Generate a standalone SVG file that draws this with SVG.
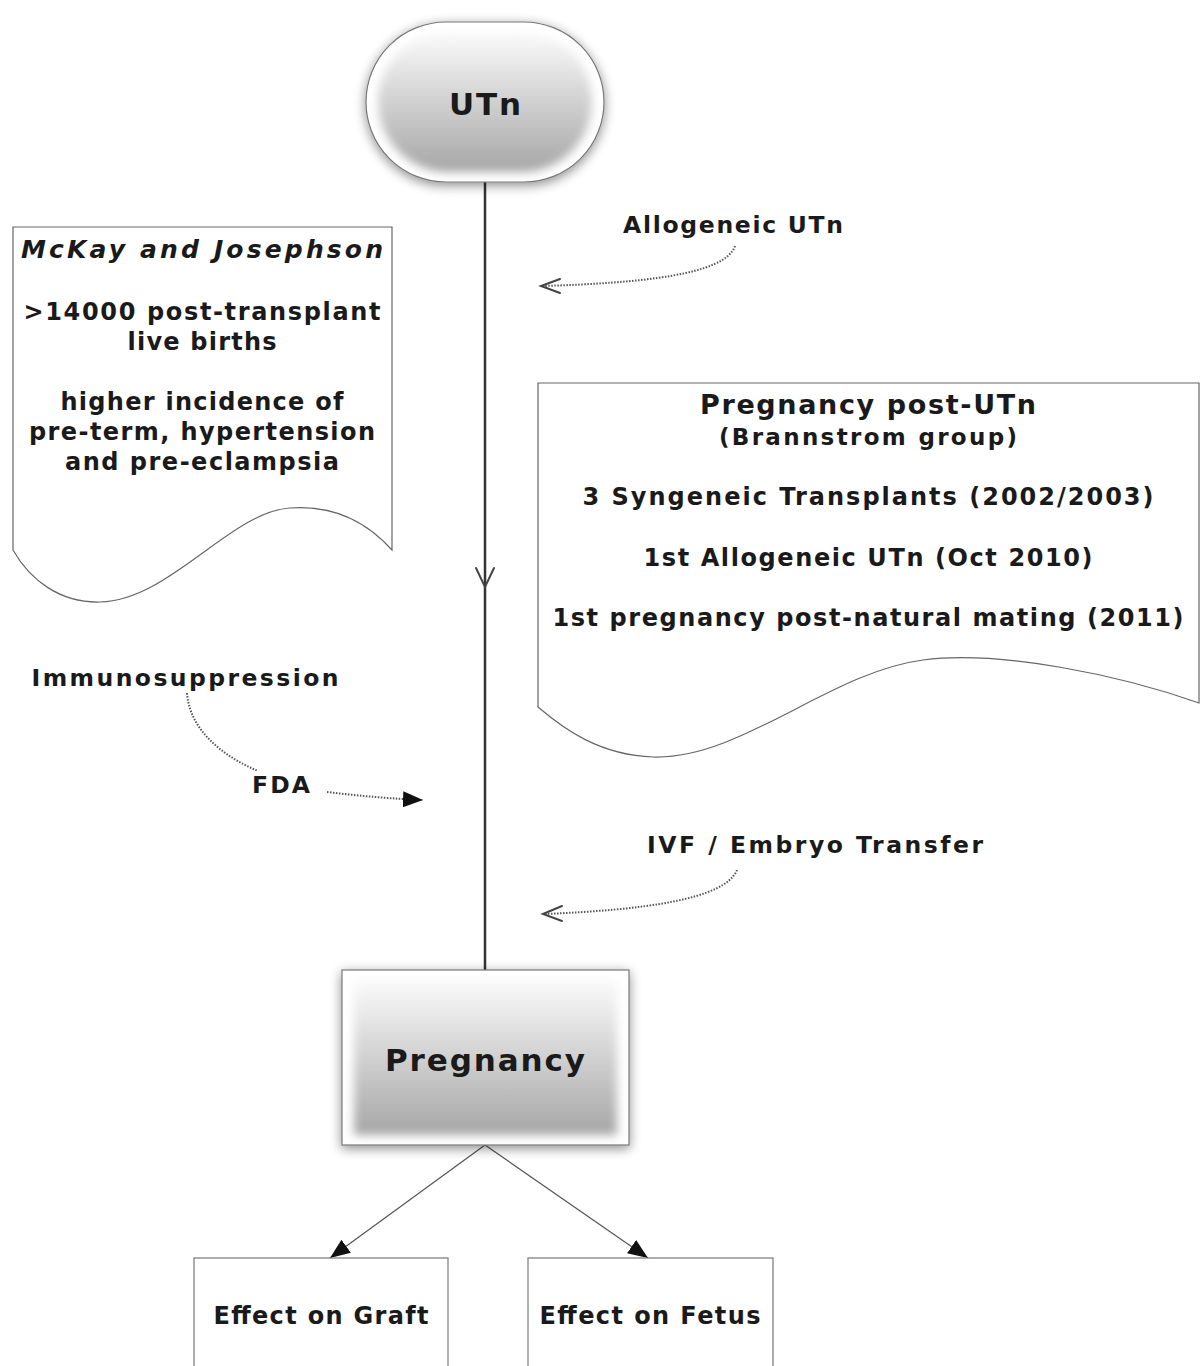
<svg xmlns="http://www.w3.org/2000/svg" width="1200" height="1366" viewBox="0 0 1200 1366">
<style>
text{font-family:"DejaVu Sans","Verdana",sans-serif;font-weight:bold;fill:#1a1a1a;text-anchor:middle}
.doc{fill:#fff;stroke:#666;stroke-width:1.2}
.box{fill:#fff;stroke:#777;stroke-width:1.2}
.dot{fill:none;stroke:#555;stroke-width:2;stroke-dasharray:1.5,1.5}
.open{fill:none;stroke:#444;stroke-width:2;stroke-linecap:round}
.thin{fill:none;stroke:#555;stroke-width:1.2}
</style>
<defs>
<linearGradient id="g" x1="0" y1="0" x2="0" y2="1">
<stop offset="0" stop-color="#fbfbfb"/>
<stop offset="1" stop-color="#a6a6a6"/>
</linearGradient>
<filter id="sh" x="-20%" y="-20%" width="140%" height="140%">
<feGaussianBlur in="SourceAlpha" stdDeviation="6"/>
<feOffset dx="0" dy="3"/>
<feComponentTransfer><feFuncA type="linear" slope="0.45"/></feComponentTransfer>
<feMerge><feMergeNode/><feMergeNode in="SourceGraphic"/></feMerge>
</filter>
<filter id="bl" x="-10%" y="-10%" width="120%" height="120%">
<feGaussianBlur stdDeviation="5"/>
</filter>
<marker id="fb" viewBox="0 0 20 16" refX="20" refY="8" markerWidth="20" markerHeight="16" markerUnits="userSpaceOnUse" orient="auto">
<path d="M0,0 L20,8 L0,16 Z" fill="#111"/>
</marker>
</defs>

<g id="connectors">
<line x1="485" y1="182" x2="485" y2="970" stroke="#333" stroke-width="2.5"/>
<path class="open" d="M476,568 L485,587 L494,568"/>
<path class="dot" d="M735,246 C725,275 640,283 543,286"/>
<path class="open" d="M560,279 L541,286 L560,293"/>
<path class="dot" d="M737,870 C725,900 640,910 545,914"/>
<path class="open" d="M562,906 L543,914 L562,921"/>
<path class="dot" d="M187,693 C190,732 225,757 258,771"/>
<path class="dot" d="M327,792 C360,796 395,799 423,800" marker-end="url(#fb)"/>
<line class="thin" x1="485" y1="1145" x2="330" y2="1258" marker-end="url(#fb)"/>
<line class="thin" x1="485" y1="1145" x2="648" y2="1258" marker-end="url(#fb)"/>
</g>

<g id="node-utn">
<rect x="366" y="22" width="238" height="160" rx="80" ry="80" fill="#fff" stroke="#777" stroke-width="1.2" filter="url(#sh)"/>
<rect x="378" y="32" width="214" height="140" rx="70" ry="70" fill="url(#g)" filter="url(#bl)"/>
<text x="485" y="115" font-size="31" textLength="72" lengthAdjust="spacing">UTn</text>
</g>

<g id="node-pregnancy">
<rect x="342" y="970" width="287" height="175" fill="#fff" stroke="#777" stroke-width="1.2" filter="url(#sh)"/>
<rect x="354" y="980" width="263" height="155" fill="url(#g)" filter="url(#bl)"/>
<text x="485" y="1071" font-size="31" textLength="200" lengthAdjust="spacing">Pregnancy</text>
</g>

<g id="node-graft">
<rect class="box" x="194" y="1258" width="254" height="130"/>
<text x="321" y="1324" font-size="24" textLength="215" lengthAdjust="spacing">Effect on Graft</text>
</g>

<g id="node-fetus">
<rect class="box" x="528" y="1258" width="245" height="130"/>
<text x="650" y="1324" font-size="24" textLength="221" lengthAdjust="spacing">Effect on Fetus</text>
</g>

<g id="node-mckay">
<path class="doc" d="M13,227 H392 V550 C365,520 330,505 290,508 C230,512 170,600 100,602 C60,603 30,580 13,550 Z"/>
<text x="202" y="258" font-size="25" font-style="italic" textLength="362" lengthAdjust="spacing">McKay and Josephson</text>
<text x="202" y="320" font-size="24" textLength="357" lengthAdjust="spacing">&gt;14000 post-transplant</text>
<text x="202" y="350" font-size="24" textLength="149" lengthAdjust="spacing">live births</text>
<text x="202" y="410" font-size="24" textLength="283" lengthAdjust="spacing">higher incidence of</text>
<text x="202" y="440" font-size="24" textLength="346" lengthAdjust="spacing">pre-term, hypertension</text>
<text x="202" y="470" font-size="24" textLength="274" lengthAdjust="spacing">and pre-eclampsia</text>
</g>

<g id="node-brannstrom">
<path class="doc" d="M538,383 H1199 V703 C1120,675 1000,650 923,660 C830,672 740,760 653,757 C600,755 565,730 538,707 Z"/>
<text x="868" y="414" font-size="27" textLength="336" lengthAdjust="spacing">Pregnancy post-UTn</text>
<text x="868" y="445" font-size="23" textLength="298" lengthAdjust="spacing">(Brannstrom group)</text>
<text x="868" y="505" font-size="24" textLength="571" lengthAdjust="spacing">3 Syngeneic Transplants (2002/2003)</text>
<text x="868" y="566" font-size="24" textLength="449" lengthAdjust="spacing">1st Allogeneic UTn (Oct 2010)</text>
<text x="868" y="626" font-size="24" textLength="631" lengthAdjust="spacing">1st pregnancy post-natural mating (2011)</text>
</g>

<g id="label-allogeneic">
<text x="733" y="233" font-size="23.5" textLength="220" lengthAdjust="spacing">Allogeneic UTn</text>
</g>
<g id="label-immuno">
<text x="185" y="686" font-size="23.5" textLength="307" lengthAdjust="spacing">Immunosuppression</text>
</g>
<g id="label-fda">
<text x="281" y="793" font-size="23.5" textLength="58" lengthAdjust="spacing">FDA</text>
</g>
<g id="label-ivf">
<text x="815" y="853" font-size="23.5" textLength="336" lengthAdjust="spacing">IVF / Embryo Transfer</text>
</g>
</svg>
